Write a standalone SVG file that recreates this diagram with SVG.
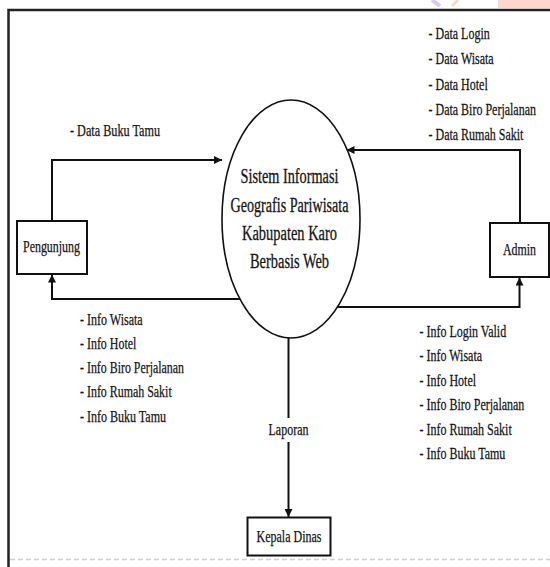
<svg xmlns="http://www.w3.org/2000/svg" width="550" height="567" viewBox="0 0 550 567" font-family="'Liberation Serif','Times New Roman','DejaVu Serif',serif">
<defs>
<style>
text{font-family:'Liberation Serif','Times New Roman','DejaVu Serif',serif;fill:#151515;font-size:16px;stroke:#151515;stroke-width:0.25px}
.big{font-size:20px;stroke-width:0.3px}
.mid{text-anchor:middle}
.conn{fill:none;stroke:#111;stroke-width:2}
.box{fill:#fff;stroke:#111;stroke-width:2}
</style>
<marker id="ah" viewBox="0 0 10 10" refX="10" refY="5" markerWidth="8" markerHeight="8" markerUnits="userSpaceOnUse" orient="auto">
<path d="M0,0 L10,5 L0,10 z" fill="#111"/>
</marker>
</defs>
<rect x="0" y="0" width="550" height="567" fill="#fff"/>
<rect x="498" y="0" width="52" height="8" fill="#ffd6cc"/>
<line x1="432" y1="0" x2="440" y2="6" stroke="#d8c8f8" stroke-width="4"/>
<line x1="452" y1="6" x2="458" y2="0" stroke="#ffd6cc" stroke-width="3"/>
<g id="frame">
<path d="M8.5,567 V10 H550" fill="none" stroke="#222" stroke-width="2.5"/>
<line x1="10" y1="559.5" x2="550" y2="559.5" stroke="#d0d0d0" stroke-width="1.5" stroke-dasharray="5,3"/>
</g>
<g id="connectors">
<path class="conn" d="M52,221 V160 H222" marker-end="url(#ah)"/>
<path class="conn" d="M245,299 H52 V274.5" marker-end="url(#ah)"/>
<path class="conn" d="M520,223 V150 H346.5" marker-end="url(#ah)"/>
<path class="conn" d="M320,307 H519.5 V277.5" marker-end="url(#ah)"/>
<path class="conn" d="M288.5,330 V517" marker-end="url(#ah)"/>
<rect x="266" y="418" width="45" height="24" fill="#fff"/>
<text x="288.5" y="435" class="mid" textLength="40" lengthAdjust="spacingAndGlyphs">Laporan</text>
<text x="70" y="136" textLength="90" lengthAdjust="spacingAndGlyphs">- Data Buku Tamu</text>
<text transform="translate(428.5,38.5) scale(0.75,1)">- Data Login</text>
<text transform="translate(428.5,64) scale(0.75,1)">- Data Wisata</text>
<text transform="translate(428.5,89.5) scale(0.75,1)">- Data Hotel</text>
<text transform="translate(428.5,114.5) scale(0.75,1)">- Data Biro Perjalanan</text>
<text transform="translate(428.5,139.5) scale(0.75,1)">- Data Rumah Sakit</text>
<text x="80" y="325" textLength="62.7" lengthAdjust="spacingAndGlyphs">- Info Wisata</text>
<text x="80" y="349" textLength="56.3" lengthAdjust="spacingAndGlyphs">- Info Hotel</text>
<text x="80" y="373.3" textLength="104" lengthAdjust="spacingAndGlyphs">- Info Biro Perjalanan</text>
<text x="80" y="397.3" textLength="91.7" lengthAdjust="spacingAndGlyphs">- Info Rumah Sakit</text>
<text x="80" y="421.7" textLength="86" lengthAdjust="spacingAndGlyphs">- Info Buku Tamu</text>
<text transform="translate(419.5,336.7) scale(0.75,1)">- Info Login Valid</text>
<text transform="translate(419.5,361.2) scale(0.75,1)">- Info Wisata</text>
<text transform="translate(419.5,385.7) scale(0.75,1)">- Info Hotel</text>
<text transform="translate(419.5,410.2) scale(0.75,1)">- Info Biro Perjalanan</text>
<text transform="translate(419.5,434.7) scale(0.75,1)">- Info Rumah Sakit</text>
<text transform="translate(419.5,459.2) scale(0.75,1)">- Info Buku Tamu</text>
</g>
<g id="sistem">
<ellipse cx="291" cy="219" rx="69" ry="119" fill="#fff" stroke="#111" stroke-width="1.6"/>
<text x="289.5" y="183" class="big mid" textLength="98" lengthAdjust="spacingAndGlyphs">Sistem Informasi</text>
<text x="289.5" y="211.5" class="big mid" textLength="118" lengthAdjust="spacingAndGlyphs">Geografis Pariwisata</text>
<text x="289.5" y="240" class="big mid" textLength="95" lengthAdjust="spacingAndGlyphs">Kabupaten Karo</text>
<text x="289.5" y="268.3" class="big mid" textLength="79" lengthAdjust="spacingAndGlyphs">Berbasis Web</text>
</g>
<g id="pengunjung">
<rect class="box" x="17" y="221" width="70" height="53"/>
<text x="51.5" y="251.5" class="mid" textLength="57" lengthAdjust="spacingAndGlyphs">Pengunjung</text>
</g>
<g id="admin">
<rect class="box" x="490" y="223" width="59" height="54"/>
<text x="519.5" y="255" class="mid" textLength="33" lengthAdjust="spacingAndGlyphs">Admin</text>
</g>
<g id="kepala-dinas">
<rect class="box" x="247.5" y="517.5" width="83" height="38"/>
<text x="289" y="541.5" class="mid" textLength="65" lengthAdjust="spacingAndGlyphs">Kepala Dinas</text>
</g>
</svg>
